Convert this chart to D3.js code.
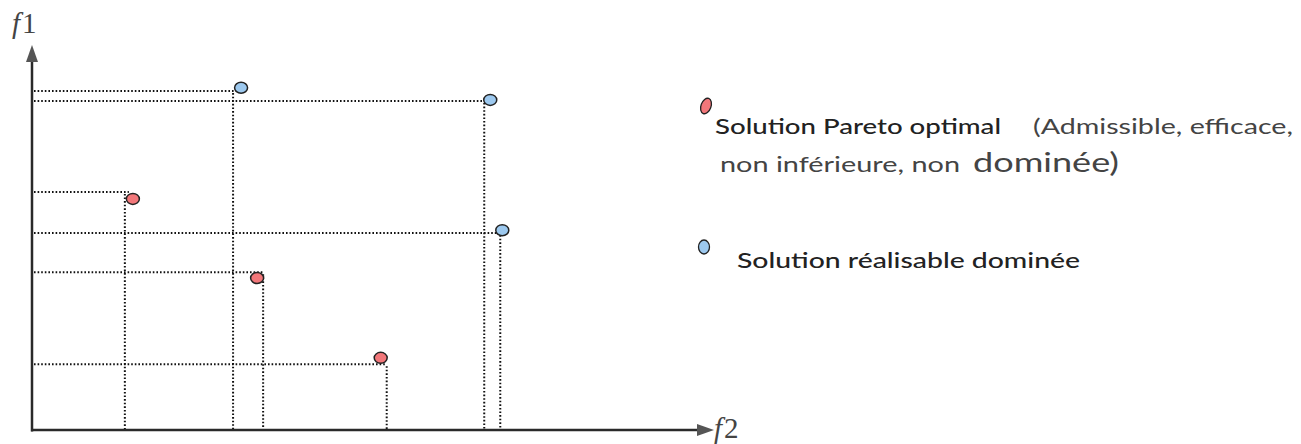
<!DOCTYPE html>
<html>
<head>
<meta charset="utf-8">
<script src="https://cdn.jsdelivr.net/npm/d3@7"></script>
<style>
  html, body { margin: 0; padding: 0; background: #fff; }
  svg { display: block; }
</style>
</head>
<body>
<svg id="chart" width="1301" height="444"></svg>
<script>
// Solutions in objective space (f2 horizontal, f1 vertical)
const solutionKind = ["dominated", "dominated", "pareto", "dominated", "pareto", "pareto"];
// projection lines onto each axis
const guideF2 = [30.1, 67.7, 13.9, 70.1, 34.6, 53.1];
const guideF1 = [92.1, 89.4, 64.7, 53.5, 42.9, 17.9];
// where each solution marker sits
const pointF2 = [31.3, 68.6, 15.1, 70.4, 33.7, 52.2];
const pointF1 = [93.0, 89.7, 62.8, 54.3, 41.3, 19.6];

const legendLabels = [
  "Solution Pareto optimal",
  "(Admissible, efficace,",
  "non inférieure, non",
  "dominée)",
  "Solution réalisable dominée"
];

const colors = { pareto: "#f2777a", dominated: "#9dc9ef" };

const svg = d3.select("#chart");

const x = d3.scaleLinear().domain([0, 100]).range([32, 700]);
const y = d3.scaleLinear().domain([0, 100]).range([430, 62]);

const data = solutionKind.map((k, i) => ({
  kind: k, gx: guideF2[i], gy: guideF1[i], px: pointF2[i], py: pointF1[i]
}));

// dotted projection lines
const guides = svg.append("g")
  .attr("stroke", "#111")
  .attr("stroke-width", 2)
  .attr("stroke-dasharray", "1.6,2")
  .attr("fill", "none");

guides.selectAll("line.h").data(data).join("line")
  .attr("class", "h")
  .attr("x1", x(0) + 2)
  .attr("x2", d => Math.max(x(d.gx), x(d.px) - 4))
  .attr("y1", d => y(d.gy))
  .attr("y2", d => y(d.gy));

guides.selectAll("line.v").data(data).join("line")
  .attr("class", "v")
  .attr("x1", d => x(d.gx))
  .attr("x2", d => x(d.gx))
  .attr("y1", d => y(d.gy) + 2)
  .attr("y2", y(0));

// axes with arrowheads
const axisColor = "#2a2a2a";
svg.append("line")
  .attr("x1", x(0)).attr("x2", x(0))
  .attr("y1", y(0) + 1.5).attr("y2", 58)
  .attr("stroke", axisColor).attr("stroke-width", 2.5);
svg.append("line")
  .attr("x1", x(0) - 1).attr("x2", 700)
  .attr("y1", y(0)).attr("y2", y(0))
  .attr("stroke", axisColor).attr("stroke-width", 2.5);

svg.append("path")
  .attr("d", d3.line()([[x(0) - 6, 62], [x(0), 45], [x(0) + 6, 62]]) + "Z")
  .attr("fill", "#555");
svg.append("path")
  .attr("d", d3.line()([[697, y(0) - 6], [714, y(0)], [697, y(0) + 6]]) + "Z")
  .attr("fill", "#555");

// axis labels: italic f with upright index
function axisLabel(px, py, index) {
  const t = svg.append("text")
    .attr("x", px).attr("y", py)
    .attr("font-family", "'Liberation Serif', serif")
    .attr("font-size", 29)
    .attr("fill", "#444");
  t.append("tspan").attr("font-style", "italic").text("f");
  t.append("tspan").attr("dx", 2).text(index);
}
axisLabel(12, 33, "1");
axisLabel(714, 438, "2");

// solution markers
svg.selectAll("ellipse.sol").data(data).join("ellipse")
  .attr("class", "sol")
  .attr("cx", d => x(d.px))
  .attr("cy", d => y(d.py))
  .attr("rx", 6.5)
  .attr("ry", 5.5)
  .attr("fill", d => colors[d.kind])
  .attr("stroke", "#222")
  .attr("stroke-width", 1.5);

// legend
const legend = svg.append("g")
  .attr("font-family", "Lato, 'Open Sans', sans-serif")
  .attr("fill", "#333");

legend.append("ellipse")
  .attr("cx", 706).attr("cy", 106).attr("rx", 5).attr("ry", 8)
  .attr("transform", "rotate(20,706,106)")
  .attr("fill", colors.pareto).attr("stroke", "#222").attr("stroke-width", 1.3);
legend.append("ellipse")
  .attr("cx", 704).attr("cy", 247).attr("rx", 5.5).attr("ry", 7)
  .attr("fill", colors.dominated).attr("stroke", "#222").attr("stroke-width", 1.3);

legend.append("text").attr("x", 715).attr("y", 134)
  .attr("font-size", 22).attr("font-weight", 500).attr("fill", "#222")
  .attr("textLength", 286).attr("lengthAdjust", "spacingAndGlyphs")
  .text(legendLabels[0]);
legend.append("text").attr("x", 1033).attr("y", 134)
  .attr("font-size", 22).attr("fill", "#444")
  .attr("textLength", 260).attr("lengthAdjust", "spacingAndGlyphs")
  .text(legendLabels[1]);
legend.append("text").attr("x", 720).attr("y", 172)
  .attr("font-size", 22).attr("fill", "#444")
  .attr("textLength", 240).attr("lengthAdjust", "spacingAndGlyphs")
  .text(legendLabels[2]);
legend.append("text").attr("x", 973).attr("y", 172)
  .attr("font-size", 27).attr("fill", "#444")
  .attr("textLength", 146).attr("lengthAdjust", "spacingAndGlyphs")
  .text(legendLabels[3]);
legend.append("text").attr("x", 737).attr("y", 268)
  .attr("font-size", 22).attr("font-weight", 500).attr("fill", "#222")
  .attr("textLength", 343).attr("lengthAdjust", "spacingAndGlyphs")
  .text(legendLabels[4]);
</script>
</body>
</html>
